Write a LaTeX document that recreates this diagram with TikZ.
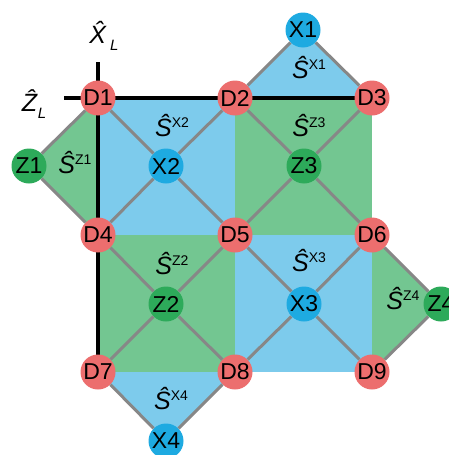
\documentclass[tikz,border=0pt]{standalone}
\usepackage{fontspec}
\setmainfont{Liberation Sans}
\usetikzlibrary{backgrounds}

\definecolor{dred}{RGB}{236,110,110}
\definecolor{xblue}{RGB}{30,170,225}
\definecolor{zgreen}{RGB}{45,170,90}
\definecolor{bfill}{RGB}{125,203,236}
\definecolor{gfill}{RGB}{115,198,145}
\definecolor{edgegray}{RGB}{135,135,135}

% stabilizer label: S-hat with a raised tag
\newcommand{\stab}[1]{\textit{\^{S}}\raisebox{9pt}{\fontsize{14}{14}\selectfont #1}}
% logical operator label
\newcommand{\logop}[1]{\textit{\^{#1}}\raisebox{-7pt}{\fontsize{15}{15}\selectfont\itshape L}}

\begin{document}
\begin{tikzpicture}[
  x=1pt, y=-1pt,
  qubit/.style={circle, inner sep=0pt, minimum size=35pt, font=\fontsize{23}{23}\selectfont},
  dnode/.style={qubit, fill=dred},
  xnode/.style={qubit, fill=xblue},
  znode/.style={qubit, fill=zgreen},
  link/.style={draw=edgegray, line width=3pt},
  axis/.style={draw=black, line width=4pt},
  lab/.style={inner sep=0pt, font=\fontsize{25}{25}\selectfont}
]
\useasboundingbox (0,0) rectangle (449,455);

% data qubits
\node[dnode] (D1) at (98,98)  {D1};
\node[dnode] (D2) at (235,98) {D2};
\node[dnode] (D3) at (372,98) {D3};
\node[dnode] (D4) at (98,235)  {D4};
\node[dnode] (D5) at (235,235) {D5};
\node[dnode] (D6) at (372,235) {D6};
\node[dnode] (D7) at (98,372)  {D7};
\node[dnode] (D8) at (235,372) {D8};
\node[dnode] (D9) at (372,372) {D9};

% ancillas
\node[xnode] (X1) at (303,30)    {X1};
\node[xnode] (X2) at (166,166)   {X2};
\node[xnode] (X3) at (304,304)   {X3};
\node[xnode] (X4) at (166,441)   {X4};
\node[znode] (Z1) at (29,166)    {Z1};
\node[znode] (Z2) at (166,304)   {Z2};
\node[znode] (Z3) at (304,166)   {Z3};
\node[znode] (Z4) at (441,304)   {Z4};

\coordinate (zend) at (64,98);
\coordinate (xend) at (98,62);

% plaquettes and logical axes go underneath
\begin{scope}[on background layer]
  \fill[bfill] (D1.center) -- (D2.center) -- (D5.center) -- (D4.center) -- cycle;
  \fill[gfill] (D2.center) -- (D3.center) -- (D6.center) -- (D5.center) -- cycle;
  \fill[gfill] (D4.center) -- (D5.center) -- (D8.center) -- (D7.center) -- cycle;
  \fill[bfill] (D5.center) -- (D6.center) -- (D9.center) -- (D8.center) -- cycle;
  \fill[bfill] (X1.center) -- (D2.center) -- (D3.center) -- cycle;
  \fill[gfill] (Z1.center) -- (D1.center) -- (D4.center) -- cycle;
  \fill[gfill] (Z4.center) -- (D6.center) -- (D9.center) -- cycle;
  \fill[bfill] (X4.center) -- (D7.center) -- (D8.center) -- cycle;
  \draw[axis] (zend) -- (D3.center);
  \draw[axis] (xend) -- (D7.center);
\end{scope}

% couplings
\draw[link] (X2) -- (D1) (X2) -- (D2) (X2) -- (D4) (X2) -- (D5);
\draw[link] (Z3) -- (D2) (Z3) -- (D3) (Z3) -- (D5) (Z3) -- (D6);
\draw[link] (Z2) -- (D4) (Z2) -- (D5) (Z2) -- (D7) (Z2) -- (D8);
\draw[link] (X3) -- (D5) (X3) -- (D6) (X3) -- (D8) (X3) -- (D9);
\draw[link] (X1) -- (D2) (X1) -- (D3);
\draw[link] (Z1) -- (D1) (Z1) -- (D4);
\draw[link] (Z4) -- (D6) (Z4) -- (D9);
\draw[link] (X4) -- (D7) (X4) -- (D8);

% stabilizer labels
\node[lab] (sx1) at (309,68)  {\stab{X1}};
\node[lab] (sx2) at (172,126) {\stab{X2}};
\node[lab] (sx3) at (309,261) {\stab{X3}};
\node[lab] (sx4) at (171,399) {\stab{X4}};
\node[lab] (sz1) at (75,163)  {\stab{Z1}};
\node[lab] (sz2) at (172,264) {\stab{Z2}};
\node[lab] (sz3) at (309,126) {\stab{Z3}};
\node[lab] (sz4) at (403,299) {\stab{Z4}};

% logical operators
\node[lab] (lx) at (104,36)  {\logop{X}};
\node[lab] (lz) at (34,104)  {\logop{Z}};

\end{tikzpicture}
\end{document}
